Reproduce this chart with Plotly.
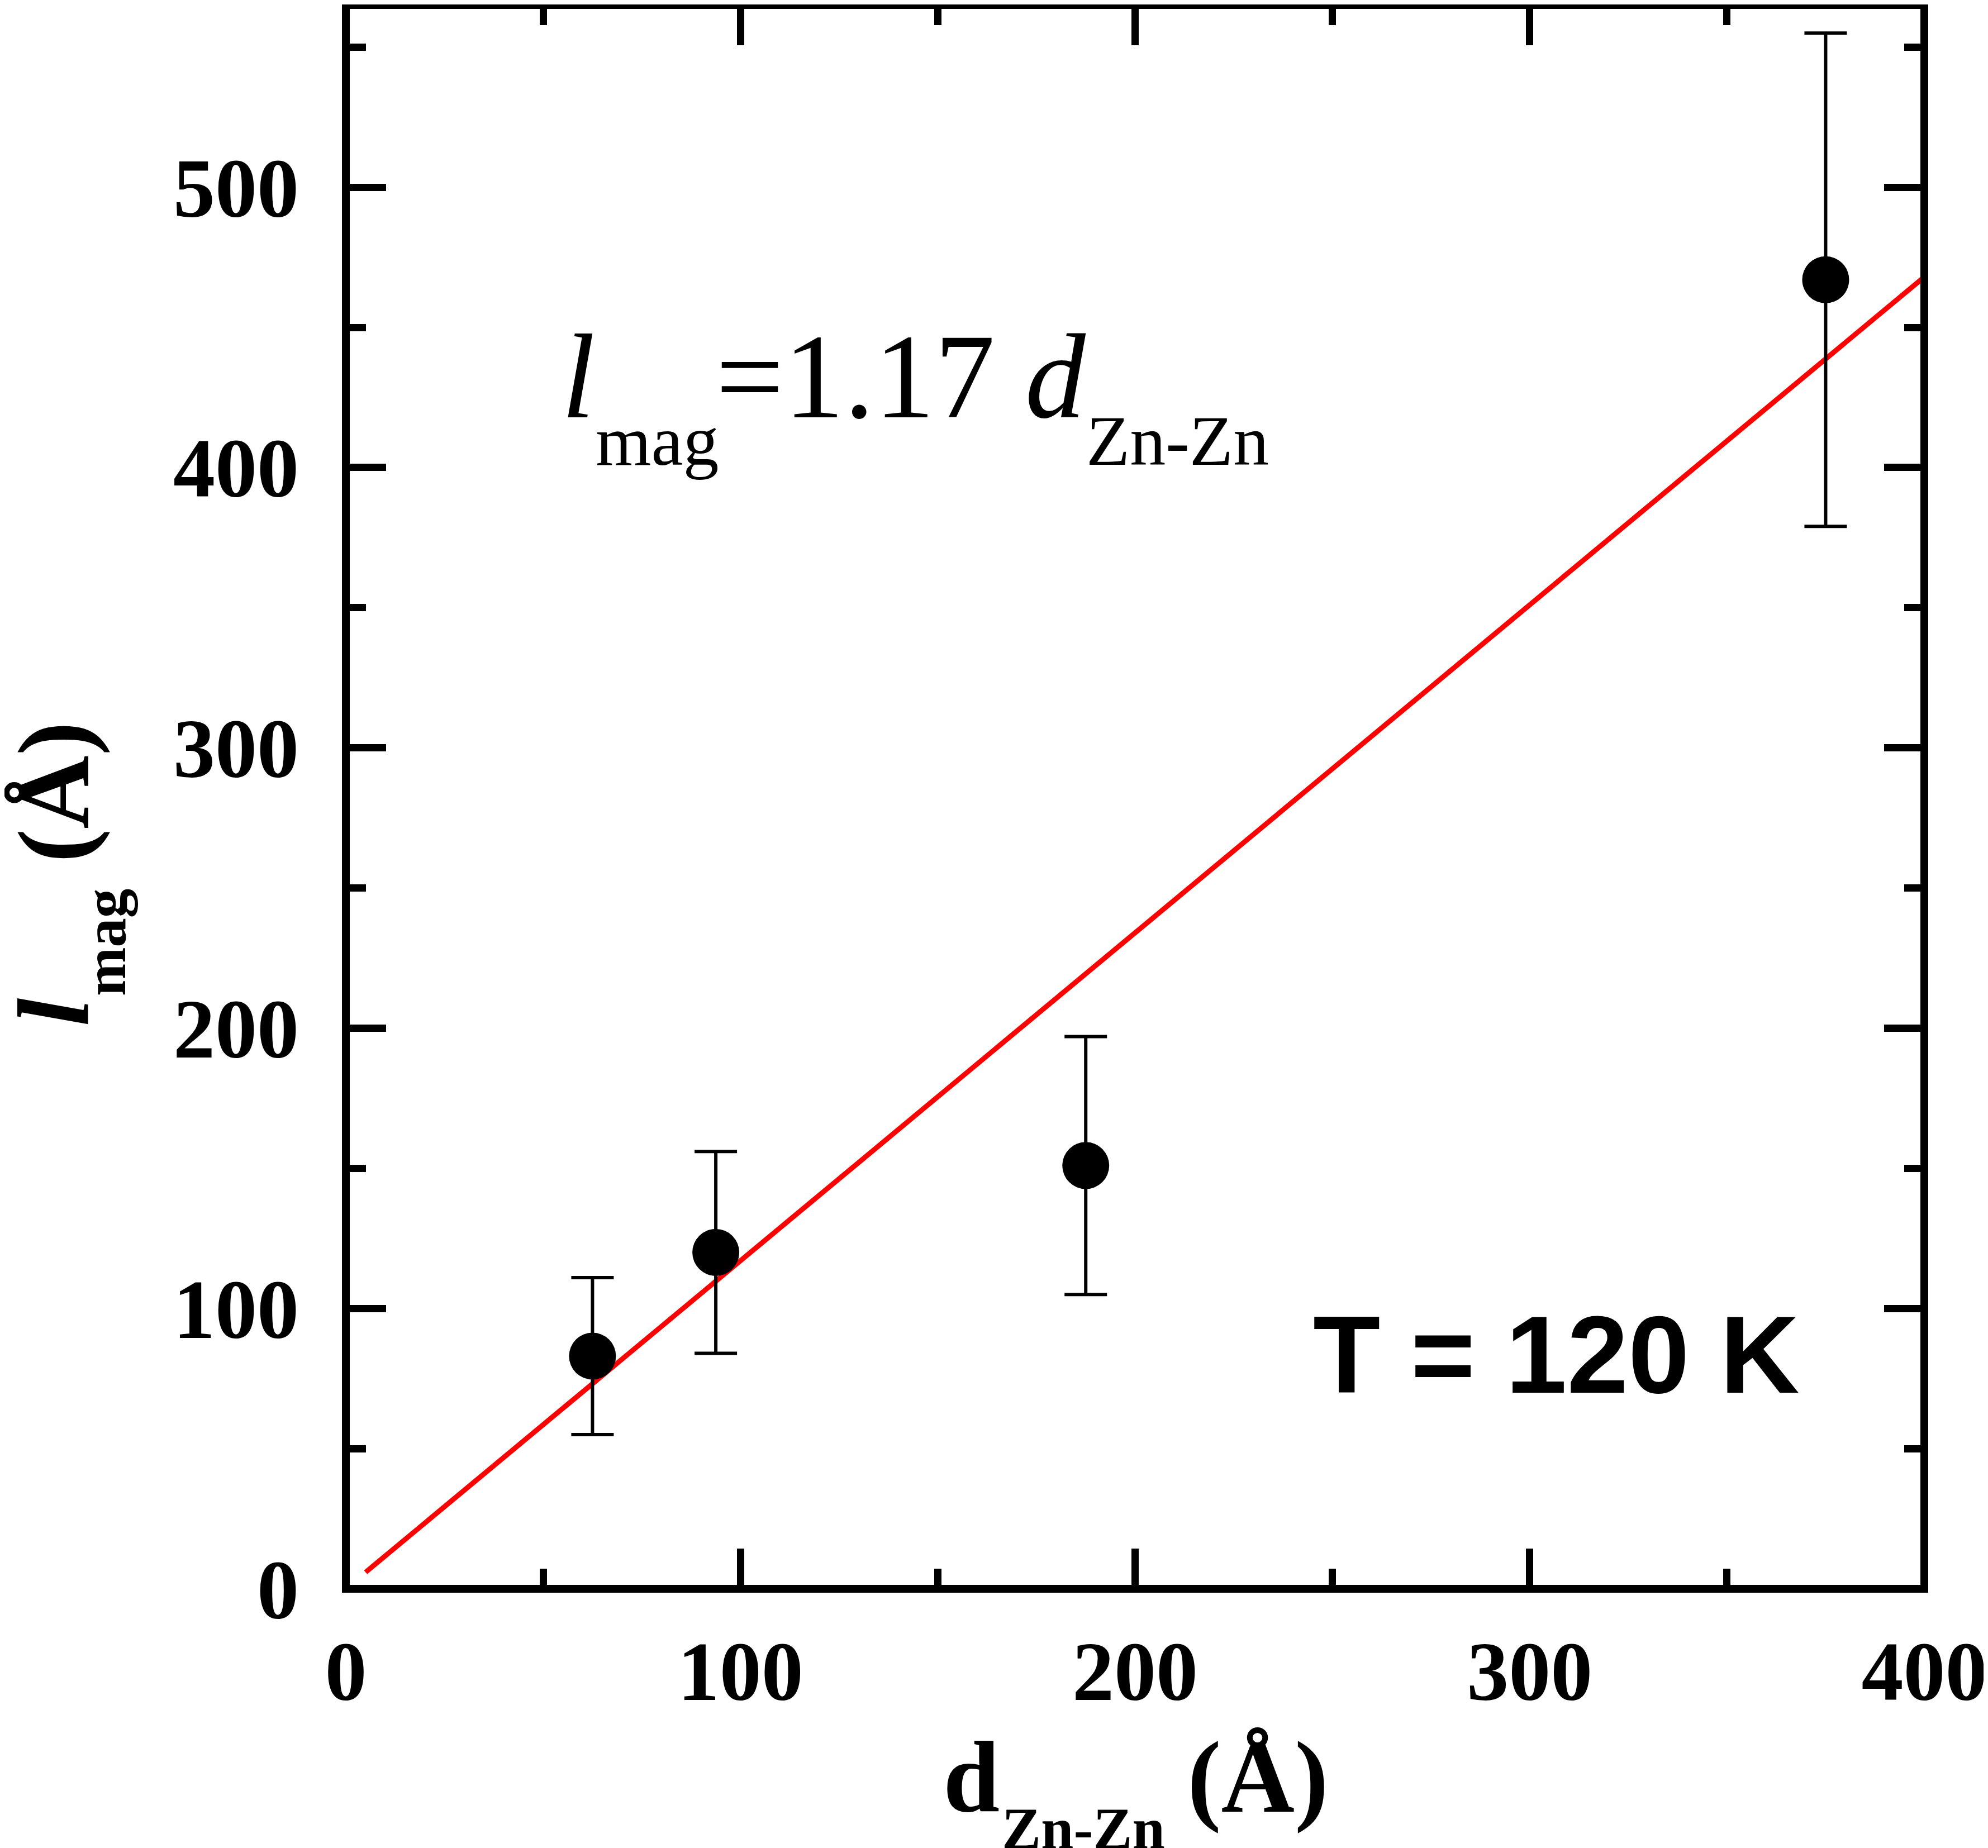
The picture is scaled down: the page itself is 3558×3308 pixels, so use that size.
import plotly.graph_objects as go

# measured data: d_Zn-Zn (A) vs l_mag (A), with error bars
d_znzn = [62.5, 93.75, 187.5, 375]
l_mag = [83, 120, 151, 467]
l_err = [28, 36, 46, 88]

# linear fit l_mag = 1.17 d_Zn-Zn, endpoints
fit_x = [5, 400]
fit_y = [5.9, 468]

x_ticks = [0, 100, 200, 300, 400]
y_ticks = [0, 100, 200, 300, 400, 500]

# page body has an 8px margin, so the figure is made 8px smaller and shifted
OFF = 8
W, H = 3558 - OFF, 3308 - OFF
L, R, T, B = 619 - OFF, 107, 9 - OFF, 464
PW, PH = W - L - R, H - T - B

SERIF = "Liberation Serif"
SANS = "Liberation Sans"


def px(x):
    return (x - OFF - L) / PW


def py(y):
    return (H - B - (y - OFF)) / PH


fig = go.Figure()
fig.add_trace(go.Scatter(
    x=fit_x, y=fit_y, mode="lines",
    line=dict(color="#ff0000", width=9), showlegend=False,
))
fig.add_trace(go.Scatter(
    x=d_znzn, y=l_mag, mode="markers",
    marker=dict(color="black", size=84, line=dict(width=0)),
    error_y=dict(type="data", array=l_err, color="black", thickness=6, width=38),
    showlegend=False,
))

tickfont = dict(family=SERIF, size=150, color="black", weight="bold")
axis_common = dict(
    showgrid=False, zeroline=False, showline=False,
    ticks="inside", ticklen=72, tickwidth=13, tickcolor="black",
    mirror="ticks", tickfont=tickfont, ticklabeloverflow="allow",
    minor=dict(dtick=50, ticks="inside", ticklen=36, tickwidth=13, tickcolor="black"),
)
fig.update_xaxes(range=[0, 400], tickvals=x_ticks, ticklabelstandoff=48, **axis_common)
fig.update_yaxes(range=[0, 565], tickvals=y_ticks, ticklabelstandoff=83, **axis_common)

# frame drawn centred on the plot edges
fig.add_shape(type="rect", xref="paper", yref="paper", x0=0, x1=1, y0=0, y1=1,
              line=dict(color="black", width=14), layer="above")

annotations = []


def text_at(text, left, baseline, size, family=SERIF, weight="normal", descent=0.216):
    annotations.append(dict(
        text=text, xref="paper", yref="paper",
        x=px(left - 1), y=py(baseline + descent * size + 1),
        xanchor="left", yanchor="bottom", showarrow=False,
        font=dict(family=family, size=size, color="black", weight=weight),
    ))


def vtext_at(text, start, baseline, size, weight="bold", descent=0.216):
    annotations.append(dict(
        text=text, xref="paper", yref="paper", textangle=-90,
        x=px(baseline + descent * size + 1), y=py(start + 1),
        xanchor="right", yanchor="bottom", showarrow=False,
        font=dict(family=SERIF, size=size, color="black", weight=weight),
    ))


# equation inside the plot
text_at("<i>l</i>", 1005, 748, 216)
text_at("mag", 1066, 833, 128)
text_at("=1.17 <i>d</i>", 1282, 748, 216)
text_at("Zn-Zn", 1946, 833, 128)

# temperature label
text_at("T = 120 K", 2353, 2494, 197, family=SANS, weight="bold", descent=0.212)

# x axis title
text_at("d", 1690, 3244, 182, weight="bold")
text_at("Zn-Zn", 1795, 3310, 105, weight="bold")
text_at("(Å)", 2128, 3244, 182, weight="bold")

# y axis title (rotated)
vtext_at("<i>l</i>", 1838, 158, 182)
vtext_at("mag", 1784, 225, 105)
vtext_at("(Å)", 1545, 158, 182)

fig.update_layout(
    width=W, height=H,
    margin=dict(l=L, r=R, t=T, b=B, pad=0),
    plot_bgcolor="white", paper_bgcolor="white",
    annotations=annotations,
)

fig.write_html("out.html")
